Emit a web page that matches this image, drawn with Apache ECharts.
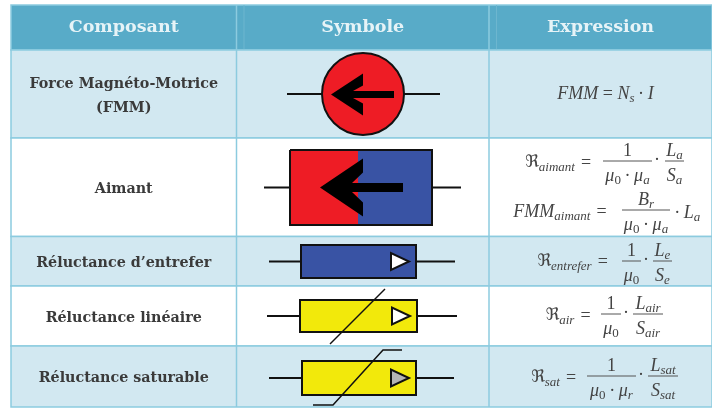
<!doctype html>
<html>
<head>
<meta charset="UTF-8">
<title>Composants magnetiques</title>
<style>
html, body { margin: 0; padding: 0; background: #fff; }
#main { width: 712px; height: 408px; }
</style>
<script src="https://cdn.jsdelivr.net/npm/echarts@6/dist/echarts.min.js"></script>
</head>
<body>
<div id="main"></div>
<script>
// contenu du tableau
var headers = ['Composant', 'Symbole', 'Expression'];
var composants = [
    'Force Magnéto-Motrice\n(FMM)',
    'Aimant',
    'Réluctance d’entrefer',
    'Réluctance linéaire',
    'Réluctance saturable'
];
var symboles = ['source', 'aimant', 'entrefer', 'lineaire', 'saturable'];

// grille du tableau
var colEdges = [11, 236.5, 489, 712];
var rowEdges = [5, 50, 138, 236.5, 286, 346, 407];

var cHeader = '#58abc8', cLight = '#d2e8f1', cLine = '#8ccbdf';
var cRed = '#ee1c25', cBlue = '#3953a4', cYellow = '#f2e90b', cInk = '#111';
var serif = '"DejaVu Serif"', math = '"Liberation Serif"';

function cellsItem(params, api) {
    var r = api.value(0);
    var a = api.coord([colEdges[0], rowEdges[r]]);
    var b = api.coord([colEdges[3], rowEdges[r + 1]]);
    var kids = [{
        type: 'rect',
        shape: { x: a[0], y: a[1], width: b[0] - a[0], height: b[1] - a[1] },
        style: { fill: r === 0 ? cHeader : (r % 2 ? cLight : '#fff'), stroke: cLine, lineWidth: 1.5 }
    }];
    [1, 2].forEach(function (c) {
        var x = api.coord([colEdges[c], 0])[0];
        kids.push({ type: 'line', shape: { x1: x, y1: a[1], x2: x, y2: b[1] }, style: { stroke: cLine, lineWidth: 1.5 } });
        if (r === 0) {
            // filet clair en plus dans l'entete
            kids.push({ type: 'line', shape: { x1: x + 7.5, y1: a[1], x2: x + 7.5, y2: b[1] }, style: { stroke: '#6db6cf', lineWidth: 1 } });
        }
    });
    return { type: 'group', children: kids };
}

function textItem(params, api) {
    var r = api.value(0);
    var c = api.value(1);
    var p = api.coord([(colEdges[c] + colEdges[c + 1]) / 2, (rowEdges[r] + rowEdges[r + 1]) / 2]);
    var isHead = r === 0;
    return {
        type: 'text',
        x: p[0], y: p[1] + (isHead ? 0 : 2),
        style: {
            text: api.value(2),
            fill: isHead ? '#e6f3f7' : '#3a3a3a',
            font: (isHead ? '600 17.5px ' : 'bold 14.3px ') + serif,
            align: 'center', verticalAlign: 'middle', lineHeight: 24
        }
    };
}

function symbolItem(params, api) {
    var kind = symboles[api.value(0)];
    function P(x, y) { return api.coord([x, y]); }
    var kids = [];
    function line(pts, w) {
        kids.push({ type: 'polyline', shape: { points: pts.map(function (q) { return P(q[0], q[1]); }) }, style: { stroke: cInk, lineWidth: w, fill: null } });
    }
    function poly(pts, fill, w) {
        kids.push({ type: 'polygon', shape: { points: pts.map(function (q) { return P(q[0], q[1]); }) }, style: { fill: fill, stroke: w ? cInk : null, lineWidth: w || 0 } });
    }
    function box(x1, y1, x2, y2, fill) {
        poly([[x1, y1], [x2, y1], [x2, y2], [x1, y2]], fill, 2);
    }
    function fleche(tip, y, dos, fin, demi, barbe, creux, queue) {
        poly([[tip, y], [dos, y - demi], [dos, y - demi + barbe], [dos - creux, y - queue], [fin, y - queue], [fin, y + queue],
            [dos - creux, y + queue], [dos, y + demi - barbe], [dos, y + demi]], '#000');
    }
    function composant(x0, x1, x2, x3, y1, y2, fill) {
        var ym = (y1 + y2) / 2;
        line([[x0, ym], [x1, ym]], 2);
        line([[x2, ym], [x3, ym]], 2);
        box(x1, y1, x2, y2, fill);
        return ym;
    }
    function triangle(x, ym, fill) {
        poly([[x, ym - 8.5], [x, ym + 8.5], [x + 18, ym]], fill, 2);
    }
    if (kind === 'source') {
        line([[287, 94], [440, 94]], 1.8);
        var c = P(363, 94);
        kids.push({ type: 'circle', shape: { cx: c[0], cy: c[1], r: 41 }, style: { fill: cRed, stroke: cInk, lineWidth: 2 } });
        fleche(331, 94.5, 363, 394, 21, 12, 10, 3.5);
    } else if (kind === 'aimant') {
        line([[264, 187.5], [461, 187.5]], 2);
        poly([[290, 150], [358, 150], [358, 225], [290, 225]], cRed);
        poly([[358, 150], [432, 150], [432, 225], [358, 225]], cBlue);
        line([[290, 150], [432, 150], [432, 225], [290, 225], [290, 150]], 2);
        fleche(320, 187.5, 363, 403, 29, 14, 11, 4.5);
    } else if (kind === 'entrefer') {
        var y = composant(269, 301, 416, 455, 245, 278, cBlue);
        triangle(391, y, '#fff');
    } else if (kind === 'lineaire') {
        var y2 = composant(267, 300, 417, 457, 300, 332, cYellow);
        triangle(392, y2, '#fff');
        line([[330, 344], [385, 289]], 1.5);
    } else {
        var y3 = composant(269, 302, 416, 454, 361, 395, cYellow);
        triangle(391, y3, '#b4b4b4');
        line([[313, 405], [333, 405], [383, 350], [402, 350]], 1.5);
    }
    return { type: 'group', children: kids };
}

// petites briques pour les formules
var ink = '#444';
var richMath = {
    m: { font: 'italic 18px ' + math, fill: ink, lineHeight: 22 },
    n: { font: '18px ' + math, fill: ink, lineHeight: 22 },
    r: { font: '17px "DejaVu Sans"', fill: ink, lineHeight: 22 },
    s: { font: 'italic 13px ' + math, fill: ink, lineHeight: 22, verticalAlign: 'bottom' },
    z: { font: '13px ' + math, fill: ink, lineHeight: 22, verticalAlign: 'bottom' }
};
var eq = '{n|\u2004=\u2004}', dot = '{n|\u2009·\u2009}';
var mu0 = '{m|μ}{z|0}';
var formules = [
    [['t', 605.5, 94, '{m|FMM}{n|\u2005=\u2005}{m|N}{s|s}' + dot + '{m|I}']],
    [['t', 561, 163, '{r|ℜ}{s|aimant}' + eq], ['f', 603, 652, 161, '{n|1}', mu0 + dot + '{m|μ}{s|a}'], ['t', 657, 160, '{n|·}'],
     ['f', 665, 684, 161, '{m|L}{s|a}', '{m|S}{s|a}'],
     ['t', 563, 212, '{m|FMM}{s|aimant}' + eq], ['f', 622, 670, 210, '{m|B}{s|r}', mu0 + dot + '{m|μ}{s|a}'], ['t', 685.5, 213, dot + '{m|L}{s|a}']],
    [['t', 575.5, 262, '{r|ℜ}{s|entrefer}' + eq], ['f', 622, 641, 261, '{n|1}', mu0], ['t', 646, 260, '{n|·}'],
     ['f', 653, 672, 261, '{m|L}{s|e}', '{m|S}{s|e}']],
    [['t', 571, 316, '{r|ℜ}{s|air}' + eq], ['f', 601, 621, 314, '{n|1}', mu0], ['t', 626, 313, '{n|·}'],
     ['f', 633, 663, 314, '{m|L}{s|air}', '{m|S}{s|air}']],
    [['t', 556.5, 378, '{r|ℜ}{s|sat}' + eq], ['f', 587, 636, 376, '{n|1}', mu0 + dot + '{m|μ}{s|r}'], ['t', 641, 375, '{n|·}'],
     ['f', 648, 678, 376, '{m|L}{s|sat}', '{m|S}{s|sat}']]
];

function formuleItem(params, api) {
    var kids = [];
    function txt(x, y, s) {
        var p = api.coord([x, y]);
        kids.push({ type: 'text', x: p[0], y: p[1], style: { text: s, rich: richMath, align: 'center', verticalAlign: 'middle' } });
    }
    formules[api.value(0)].forEach(function (f) {
        if (f[0] === 't') {
            txt(f[1], f[2], f[3]);
        } else {
            var a = api.coord([f[1], f[3]]), b = api.coord([f[2], f[3]]);
            kids.push({ type: 'line', shape: { x1: a[0], y1: a[1], x2: b[0], y2: b[1] }, style: { stroke: '#555', lineWidth: 1 } });
            var mid = (f[1] + f[2]) / 2;
            txt(mid, f[3] - 10, f[4]);
            txt(mid, f[3] + 15, f[5]);
        }
    });
    return { type: 'group', children: kids };
}

var rowIdx = rowEdges.slice(0, -1).map(function (e, i) { return [i]; });
var textData = [];
headers.forEach(function (h, c) { textData.push([0, c, h]); });
composants.forEach(function (n, i) { textData.push([i + 1, 0, n]); });

var chart = echarts.init(document.getElementById('main'), null, { renderer: 'canvas' });
chart.setOption({
    animation: false,
    grid: { left: 0, right: 0, top: 0, bottom: 0 },
    xAxis: { type: 'value', min: 0, max: 712, show: false },
    yAxis: { type: 'value', min: 0, max: 408, inverse: true, show: false },
    series: [
        { type: 'custom', silent: true, renderItem: cellsItem, data: rowIdx, clip: false },
        { type: 'custom', silent: true, renderItem: textItem, data: textData, encode: { x: 0, y: 1 }, clip: false },
        { type: 'custom', silent: true, renderItem: symbolItem, data: symboles.map(function (s, i) { return [i]; }), clip: false },
        { type: 'custom', silent: true, renderItem: formuleItem, data: formules.map(function (s, i) { return [i]; }), clip: false }
    ]
});
</script>
</body>
</html>
